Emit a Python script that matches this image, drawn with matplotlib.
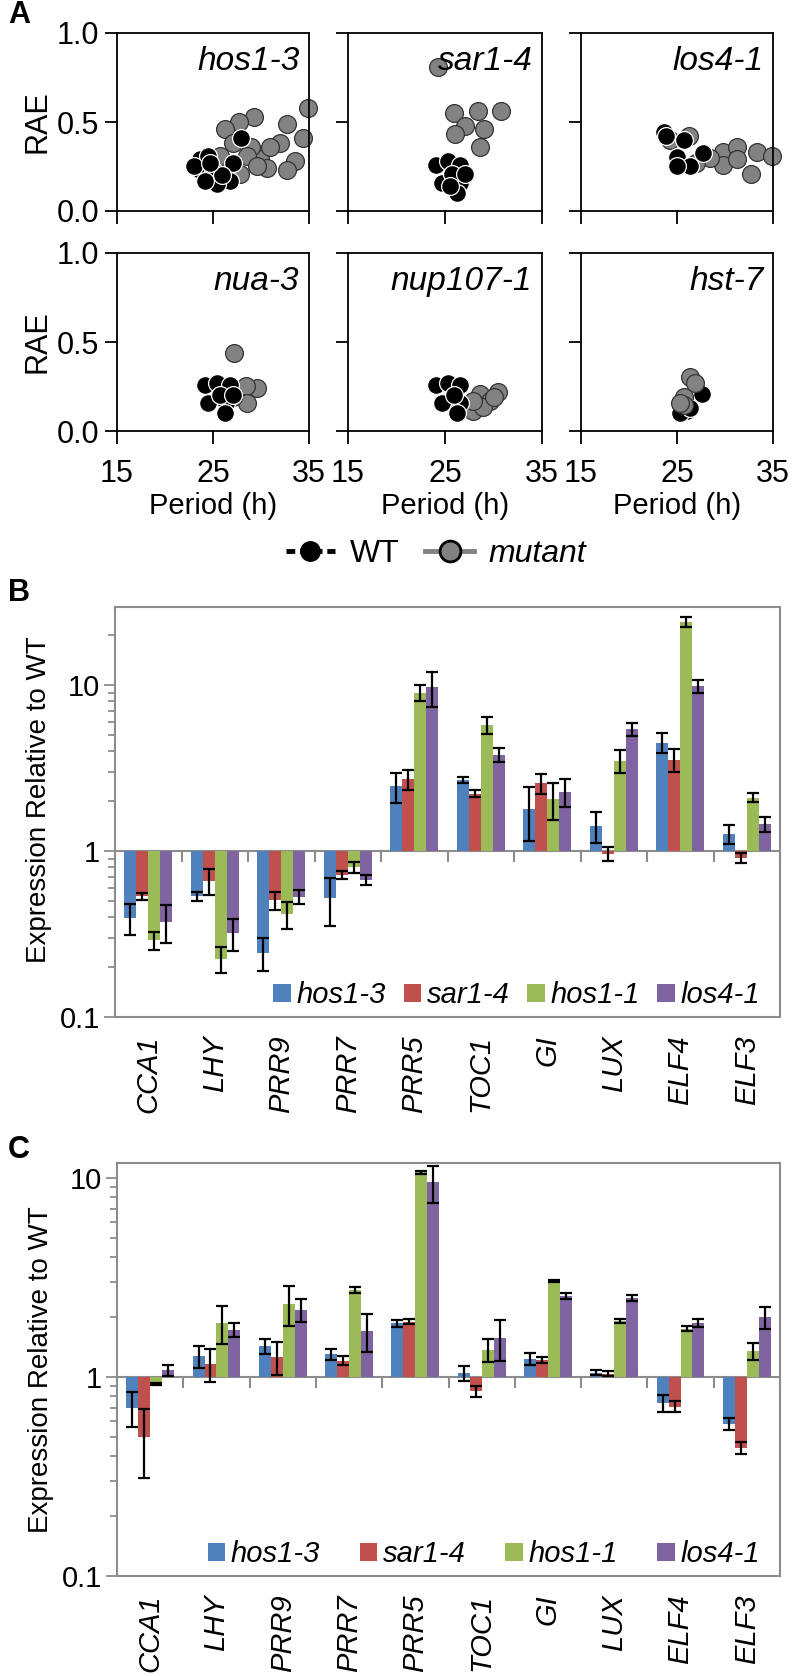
import numpy as np
import matplotlib
matplotlib.use("Agg")
import matplotlib.pyplot as plt
from matplotlib.lines import Line2D
from matplotlib.patches import Patch
from matplotlib.ticker import LogLocator, NullFormatter

plt.rcParams['font.family'] = ['Liberation Sans', 'DejaVu Sans']

# ---- panel A: period / RAE scatter ----
hos13_wt_per = [27.9, 23.6, 24.5, 23.6, 25.0, 26.8, 25.4, 27.1, 24.2, 25.9, 23.0, 24.7]
hos13_wt_rae = [0.41, 0.29, 0.31, 0.23, 0.23, 0.17, 0.15, 0.27, 0.17, 0.20, 0.25, 0.27]
hos13_mu_per = [34.9, 32.7, 29.3, 27.7, 26.25, 34.4, 32.0, 33.5, 29.9, 30.6, 32.7, 29.0, 27.1,
                25.7, 27.1, 28.5, 30.9, 26.4, 27.8, 29.6]
hos13_mu_rae = [0.58, 0.49, 0.53, 0.50, 0.46, 0.41, 0.38, 0.28, 0.29, 0.24, 0.23, 0.36, 0.38,
                0.31, 0.25, 0.31, 0.36, 0.21, 0.21, 0.25]

sar14_wt_per = [24.1, 25.3, 26.5, 24.7, 26.5, 26.2, 25.7, 27.1, 25.5]
sar14_wt_rae = [0.26, 0.28, 0.26, 0.16, 0.16, 0.10, 0.21, 0.21, 0.14]
sar14_mu_per = [24.3, 25.9, 28.4, 30.8, 27.1, 29.0, 26.0, 28.6]
sar14_mu_rae = [0.81, 0.55, 0.56, 0.56, 0.48, 0.46, 0.43, 0.36]

los41_wt_per = [23.6, 25.7, 25.0, 26.4, 27.7, 25.0, 23.9]
los41_wt_rae = [0.445, 0.40, 0.305, 0.25, 0.325, 0.25, 0.42]
los41_mu_per = [29.8, 31.2, 33.3, 34.9, 32.7, 29.8, 31.2, 28.4, 26.2, 27.0, 24.3]
los41_mu_rae = [0.33, 0.36, 0.33, 0.31, 0.21, 0.26, 0.29, 0.30, 0.42, 0.27, 0.40]

nua3_wt_per = [24.2, 25.4, 26.8, 24.5, 26.4, 26.25, 25.7, 27.1]
nua3_wt_rae = [0.26, 0.27, 0.26, 0.16, 0.16, 0.10, 0.20, 0.20]
nua3_mu_per = [27.2, 29.6, 28.4, 28.5, 27.1]
nua3_mu_rae = [0.44, 0.24, 0.25, 0.155, 0.19]

nup1071_wt_per = [24.1, 25.3, 26.5, 24.7, 26.5, 26.2, 25.9]
nup1071_wt_rae = [0.26, 0.27, 0.26, 0.16, 0.16, 0.10, 0.20]
nup1071_mu_per = [28.6, 30.5, 29.6, 27.9, 28.9, 30.0, 27.9]
nup1071_mu_rae = [0.21, 0.22, 0.17, 0.11, 0.135, 0.19, 0.17]

hst7_wt_per = [26.0, 27.6, 25.3, 26.35]
hst7_wt_rae = [0.11, 0.21, 0.10, 0.13]
hst7_mu_per = [26.35, 26.9, 25.7, 25.7, 25.3]
hst7_mu_rae = [0.305, 0.27, 0.19, 0.145, 0.16]

a_names = ["hos1-3", "sar1-4", "los4-1", "nua-3", "nup107-1", "hst-7"]
a_data = [
    (hos13_wt_per, hos13_wt_rae, hos13_mu_per, hos13_mu_rae),
    (sar14_wt_per, sar14_wt_rae, sar14_mu_per, sar14_mu_rae),
    (los41_wt_per, los41_wt_rae, los41_mu_per, los41_mu_rae),
    (nua3_wt_per, nua3_wt_rae, nua3_mu_per, nua3_mu_rae),
    (nup1071_wt_per, nup1071_wt_rae, nup1071_mu_per, nup1071_mu_rae),
    (hst7_wt_per, hst7_wt_rae, hst7_mu_per, hst7_mu_rae),
]

# ---- panels B and C: expression relative to WT ----
genes = ["CCA1", "LHY", "PRR9", "PRR7", "PRR5", "TOC1", "GI", "LUX", "ELF4", "ELF3"]
lines = ["hos1-3", "sar1-4", "hos1-1", "los4-1"]
colors = ["#4F81BD", "#C0504D", "#9BBB59", "#8064A2"]

b_hos13 = [0.395, 0.535, 0.243, 0.52, 2.45, 2.68, 1.79, 1.42, 4.5, 1.27]
b_hos13_sd = [0.085, 0.035, 0.055, 0.165, 0.5, 0.1, 0.64, 0.3, 0.62, 0.17]
b_sar14 = [0.535, 0.66, 0.505, 0.72, 2.7, 2.22, 2.57, 0.96, 3.55, 0.91]
b_sar14_sd = [0.025, 0.115, 0.065, 0.04, 0.37, 0.11, 0.35, 0.095, 0.56, 0.06]
b_hos11 = [0.29, 0.224, 0.415, 0.80, 9.0, 5.74, 2.05, 3.5, 24.0, 2.1]
b_hos11_sd = [0.035, 0.04, 0.075, 0.06, 1.0, 0.66, 0.51, 0.55, 1.7, 0.13]
b_los41 = [0.375, 0.32, 0.53, 0.67, 9.7, 3.8, 2.27, 5.4, 9.8, 1.45]
b_los41_sd = [0.095, 0.07, 0.05, 0.05, 2.3, 0.37, 0.43, 0.5, 0.9, 0.15]

c_hos13 = [0.70, 1.27, 1.43, 1.30, 1.86, 1.05, 1.23, 1.05, 0.74, 0.58]
c_hos13_sd = [0.14, 0.16, 0.12, 0.08, 0.07, 0.09, 0.085, 0.03, 0.075, 0.04]
c_sar14 = [0.50, 1.16, 1.26, 1.21, 1.90, 0.85, 1.22, 1.04, 0.71, 0.44]
c_sar14_sd = [0.19, 0.22, 0.24, 0.06, 0.055, 0.055, 0.04, 0.03, 0.045, 0.03]
c_hos11 = [0.92, 1.87, 2.33, 2.73, 10.7, 1.37, 3.03, 1.91, 1.75, 1.35]
c_hos11_sd = [0.01, 0.41, 0.53, 0.1, 0.2, 0.18, 0.04, 0.05, 0.05, 0.13]
c_los41 = [1.08, 1.73, 2.18, 1.70, 9.5, 1.57, 2.55, 2.50, 1.87, 2.0]
c_los41_sd = [0.07, 0.14, 0.29, 0.37, 2.05, 0.37, 0.085, 0.085, 0.09, 0.26]

W, H = 793, 1676
fig = plt.figure(figsize=(W / 100, H / 100), dpi=100)


def box(l, t, r, b):
    return [l / W, 1 - b / H, (r - l) / W, (b - t) / H]


GRAY_MUT = "#828282"
cols_px = [(117, 309), (348, 542), (581, 773)]
rows_px = [(33, 211), (253, 431)]

for k, name in enumerate(a_names):
    r, c = divmod(k, 3)
    ax = fig.add_axes(box(cols_px[c][0], rows_px[r][0], cols_px[c][1], rows_px[r][1]))
    wt_x, wt_y, mu_x, mu_y = a_data[k]
    wt_kw = dict(s=165, c="black", edgecolors="white", linewidths=0.9, clip_on=False)
    mu_kw = dict(s=165, c=GRAY_MUT, edgecolors="#333333", linewidths=0.9, clip_on=False)
    if name == "hst-7":
        ax.scatter(wt_x, wt_y, zorder=2, **wt_kw)
        ax.scatter(mu_x, mu_y, zorder=3, **mu_kw)
    else:
        ax.scatter(mu_x, mu_y, zorder=2, **mu_kw)
        ax.scatter(wt_x, wt_y, zorder=3, **wt_kw)
    ax.set_xlim(15, 35)
    ax.set_ylim(0, 1)
    ax.set_xticks([15, 25, 35])
    ax.set_yticks([0, 0.5, 1.0])
    ax.set_yticklabels(["0.0", "0.5", "1.0"])
    for sp in ax.spines.values():
        sp.set_linewidth(1.3)
    ax.tick_params(direction="out", length=9, width=1.3, labelsize=22, pad=4)
    ax.tick_params(axis="x", pad=11)
    if c != 0:
        ax.tick_params(labelleft=False)
    else:
        ax.set_ylabel("RAE", fontsize=22, labelpad=3)
    if r == 0:
        ax.tick_params(labelbottom=False)
    else:
        ax.set_xlabel("Period (h)", fontsize=21, labelpad=2)
    ax.text(0.95, 0.84, name, transform=ax.transAxes, ha="right", va="center",
            fontsize=24, style="italic", zorder=5)

handles = [
    Line2D([], [], color="black", lw=3.5, ls=(0, (1.8, 1)), marker="o", markersize=14,
           markerfacecolor="black", markeredgecolor="black"),
    Line2D([], [], color=GRAY_MUT, lw=3.5, marker="o", markersize=15,
           markerfacecolor=GRAY_MUT, markeredgecolor="black", markeredgewidth=2),
]
leg = fig.legend(handles, ["WT", "mutant"], loc="center", bbox_to_anchor=(436 / W, 1 - 554 / H),
                 ncol=2, frameon=False, fontsize=23, handlelength=1.55, handletextpad=0.45,
                 columnspacing=0.8)
leg.get_texts()[1].set_style("italic")

# ---- bar panels ----
AX_GRAY = "#8C8C8C"


def bar_panel(rect, series, errs, ymax, leg_kw, label_y):
    ax = fig.add_axes(rect)
    ax.set_yscale("log")
    ax.set_ylim(0.1, ymax)
    x = np.arange(len(genes))
    w = 0.18
    for i, (vals, sd) in enumerate(zip(series, errs)):
        v = np.array(vals)
        ax.bar(x + (i - 1.5) * w, v - 1, bottom=1, width=w, color=colors[i], label=lines[i],
               yerr=sd, error_kw=dict(ecolor="black", elinewidth=1.6, capsize=4.5, capthick=1.6),
               zorder=2)
    ax.set_xlim(-0.5, len(genes) - 0.5)
    ax.set_xticks(x)
    ax.set_xticklabels(genes, rotation=90, style="italic", fontsize=21, va="top")
    ax.tick_params(axis="x", length=0, pad=13)
    ax.set_yticks([0.1, 1, 10])
    ax.set_yticklabels(["0.1", "1", "10"])
    ax.yaxis.set_minor_locator(LogLocator(base=10, subs=np.arange(2, 10)))
    ax.yaxis.set_minor_formatter(NullFormatter())
    ax.tick_params(axis="y", which="major", length=8, width=1.3, color=AX_GRAY, labelsize=21, pad=3)
    ax.tick_params(axis="y", which="minor", length=5, width=1.3, color=AX_GRAY)
    for sp in ax.spines.values():
        sp.set_color(AX_GRAY)
        sp.set_linewidth(1.5)
    # category axis crossing at y = 1
    frac = np.log10(1 / 0.1) / np.log10(ymax / 0.1)
    sec = ax.secondary_xaxis(frac)
    sec.set_xticks(np.arange(len(genes) + 1) - 0.5)
    sec.set_xticklabels([])
    sec.tick_params(direction="out", length=8, width=1.5, color=AX_GRAY)
    for sp in sec.spines.values():
        sp.set_color(AX_GRAY)
        sp.set_linewidth(1.5)
    ax.set_ylabel("Expression Relative to WT", fontsize=20)
    ax.yaxis.set_label_coords(-0.095, label_y)
    hl = [Patch(facecolor=colors[i]) for i in range(4)]
    ax.legend(hl, lines, ncol=4, frameon=False, handlelength=0.6,
              handleheight=0.6, handletextpad=0.2, prop={"style": "italic", "size": 21},
              **leg_kw)
    return ax


axB = bar_panel(box(115, 607, 780, 1017),
                [b_hos13, b_sar14, b_hos11, b_los41],
                [b_hos13_sd, b_sar14_sd, b_hos11_sd, b_los41_sd], 29.5,
                dict(loc="lower right", bbox_to_anchor=(1.01, -0.045), columnspacing=0.6),
                0.53)
axC = bar_panel(box(117, 1163, 780, 1576),
                [c_hos13, c_sar14, c_hos11, c_los41],
                [c_hos13_sd, c_sar14_sd, c_hos11_sd, c_los41_sd], 11.9,
                dict(loc="lower right", bbox_to_anchor=(1.01, -0.045), columnspacing=1.35),
                0.5)

for lab, yy in [("A", 15), ("B", 593), ("C", 1150)]:
    fig.text(8 / W, 1 - yy / H, lab, fontsize=22, fontweight="bold", va="center", ha="left")

fig.savefig("out.png", dpi=100)
